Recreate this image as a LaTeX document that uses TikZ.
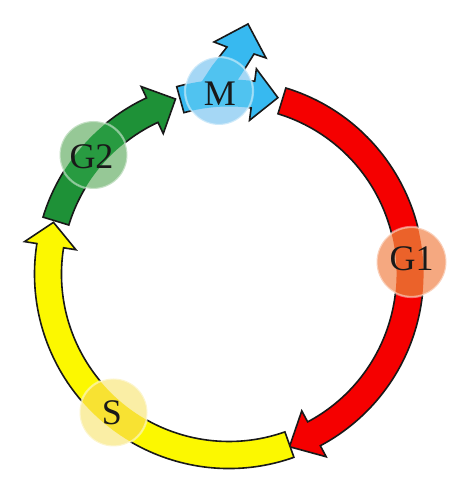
\documentclass[tikz,border=0pt]{standalone}
\usepackage{fontspec}
\setmainfont{Liberation Serif}
\usetikzlibrary{calc}
\definecolor{redband}{RGB}{245,0,0}
\definecolor{yellowband}{RGB}{252,248,0}
\definecolor{greenband}{RGB}{30,145,55}
\definecolor{cyanband}{RGB}{55,185,240}
\definecolor{gonecirc}{RGB}{245,168,128}
\definecolor{gonein}{RGB}{235,98,42}
\definecolor{gtwocirc}{RGB}{150,200,150}
\definecolor{gtwoin}{RGB}{40,155,65}
\definecolor{scirc}{RGB}{250,238,165}
\definecolor{sin}{RGB}{248,226,50}
\definecolor{mcirc}{RGB}{165,215,245}
\definecolor{min}{RGB}{80,195,240}
% #1 options, #2 start angle, #3 head base angle, #4 tip angle
\newcommand\bandshape[4]{%
  \path[#1] ($(C)+(#2:194.5pt)$) arc[start angle=#2, end angle=#3, radius=194.5pt]
    -- ($(C)+(#3:207pt)$) -- ($(C)+(#4:183pt)$) -- ($(C)+(#3:155pt)$)
    -- ($(C)+(#3:167.5pt)$) arc[start angle=#3, end angle=#2, radius=167.5pt] -- cycle;}
\newcommand\branchshape[1]{%
  \path[#1] (195,402) -- (212,428) -- (227,447) -- (214,452) -- (248,470)
    -- (266,436) -- (254,440) -- (241,419) -- (223,392) -- cycle;}
\begin{document}
\begin{tikzpicture}[x=1pt,y=1pt,
  outline/.style={draw=black!90, line width=1.6pt, line join=miter},
  rim/.style={draw=white, opacity=0.45, line width=2.2pt},
  lbl/.style={font=\fontsize{36}{36}\selectfont, text=black!90, inner sep=0pt}]
\useasboundingbox (0,0) rectangle (474,494);
\coordinate (C) at (229,220);
\coordinate (G1c) at (411.5,232);
\coordinate (G2c) at (93.5,339);
\coordinate (Sc) at (113.5,81.5);
\coordinate (Mc) at (219,403);
% bands
\bandshape{outline, fill=redband}{73}{-62}{-70.7}
\bandshape{outline, fill=yellowband}{-70.5}{-189}{-196.4}
\bandshape{outline, fill=greenband}{163}{115.1}{107}
\branchshape{outline, fill=cyanband}
\bandshape{outline, fill=cyanband}{105.6}{82.4}{74.5}
% G1
\fill[gonecirc] (G1c) circle[radius=35pt];
\begin{scope}
  \clip (G1c) circle[radius=35pt];
  \bandshape{fill=gonein}{73}{-62}{-70.7}
\end{scope}
\draw[rim] (G1c) circle[radius=35pt];
\node[lbl] (g1) at (411.7,235.7) {G1};
% G2
\fill[gtwocirc] (G2c) circle[radius=34pt];
\begin{scope}
  \clip (G2c) circle[radius=34pt];
  \bandshape{fill=gtwoin}{163}{115.1}{107}
\end{scope}
\draw[rim] (G2c) circle[radius=34pt];
\node[lbl] (g2) at (91.5,337.5) {G2};
% S
\fill[scirc] (Sc) circle[radius=34pt];
\begin{scope}
  \clip (Sc) circle[radius=34pt];
  \bandshape{fill=sin}{-70.5}{-189}{-196.4}
\end{scope}
\draw[rim] (Sc) circle[radius=34pt];
\node[lbl] (s) at (112,81) {S};
% M
\fill[mcirc] (Mc) circle[radius=34pt];
\begin{scope}
  \clip (Mc) circle[radius=34pt];
  \branchshape{fill=min}
  \bandshape{fill=min}{105.6}{82.4}{74.5}
\end{scope}
\draw[rim] (Mc) circle[radius=34pt];
\node[lbl] (m) at (220,400) {M};
\end{tikzpicture}
\end{document}
